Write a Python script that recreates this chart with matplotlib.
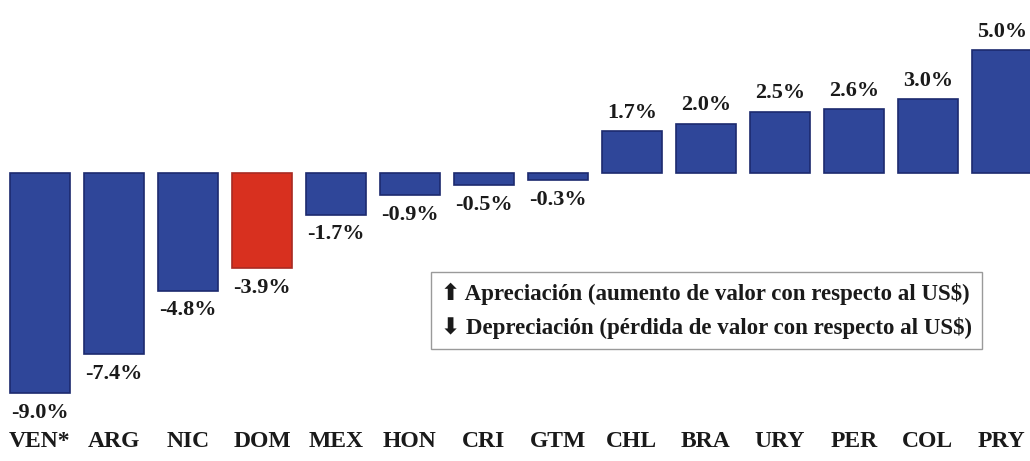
import matplotlib.pyplot as plt

# data
countries = ["VEN*", "ARG", "NIC", "DOM", "MEX", "HON", "CRI", "GTM",
             "CHL", "BRA", "URY", "PER", "COL", "PRY"]
values = [-9.0, -7.4, -4.8, -3.9, -1.7, -0.9, -0.5, -0.3,
          1.7, 2.0, 2.5, 2.6, 3.0, 5.0]
highlight = "DOM"

blue = "#2f4699"
blue_edge = "#1c2a6e"
red = "#d8301f"
red_edge = "#a82a22"

plt.rcParams['font.family'] = ['Liberation Serif', 'DejaVu Sans']

fig = plt.figure(figsize=(10.30, 4.61), dpi=100)
ax = fig.add_axes([0, 0, 1, 1])

x = list(range(len(countries)))
colors = [red if c == highlight else blue for c in countries]
edges = [red_edge if c == highlight else blue_edge for c in countries]
ax.bar(x, values, width=0.81, color=colors, edgecolor=edges, linewidth=1.2)

for i, v in enumerate(values):
    if v >= 0:
        ax.text(i, v + 0.35, f"{v:.1f}%", ha="center", va="bottom",
                fontsize=16, fontweight="bold", color="#1a1a1a")
    else:
        ax.text(i, v - 0.4, f"{v:.1f}%", ha="center", va="top",
                fontsize=16, fontweight="bold", color="#1a1a1a")

for i, c in enumerate(countries):
    ax.text(i, -10.95, c, ha="center", va="center", fontsize=17,
            fontweight="bold", color="#1a1a1a")

# legend box
ax.text(5.42, -5.63,
        "\u2B06 Apreciación (aumento de valor con respecto al US$)\n"
        "\u2B07 Depreciación (pérdida de valor con respecto al US$)",
        ha="left", va="center", fontsize=16.5, fontweight="bold",
        color="#1a1a1a", linespacing=1.7,
        bbox=dict(boxstyle="square,pad=0.45", facecolor="white",
                  edgecolor="#9a9a9a", linewidth=1.0))

ax.set_xlim(-0.54, 13.38)
ax.set_ylim(-11.76, 7.06)
ax.axis("off")

fig.savefig("out.png", dpi=100, facecolor="white")
